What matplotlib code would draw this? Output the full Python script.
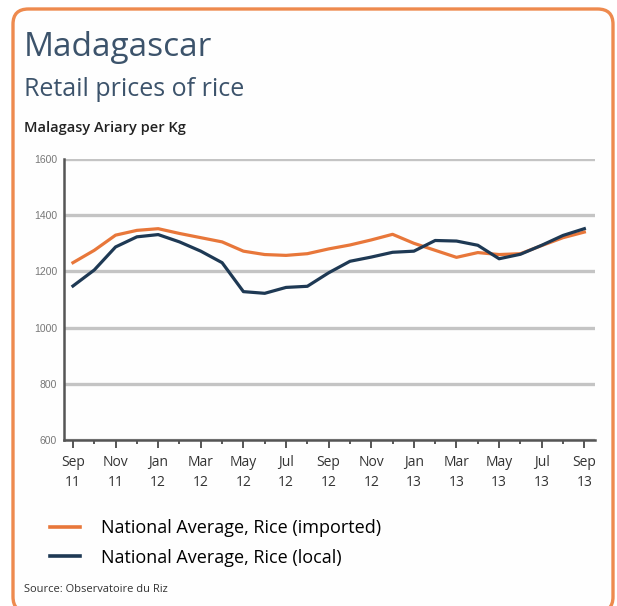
import matplotlib.pyplot as plt
from matplotlib.patches import FancyBboxPatch
from matplotlib.lines import Line2D

# Monthly retail prices, Sep 2011 - Sep 2013 (Ariary per kg)
months = ['Sep', 'Oct', 'Nov', 'Dec', 'Jan', 'Feb', 'Mar', 'Apr', 'May', 'Jun', 'Jul', 'Aug',
          'Sep', 'Oct', 'Nov', 'Dec', 'Jan', 'Feb', 'Mar', 'Apr', 'May', 'Jun', 'Jul', 'Aug', 'Sep']
years = ['11'] * 4 + ['12'] * 12 + ['13'] * 9
rice_imported = [1231, 1275, 1329, 1346, 1352, 1335, 1320, 1305, 1272, 1260, 1257, 1263,
                 1280, 1294, 1312, 1332, 1300, 1275, 1250, 1267, 1260, 1263, 1292, 1320, 1340]
rice_local = [1148, 1205, 1287, 1323, 1331, 1305, 1272, 1231, 1128, 1122, 1143, 1147,
              1195, 1236, 1251, 1268, 1272, 1310, 1308, 1293, 1245, 1261, 1293, 1328, 1352]

W, H = 617, 606
ORANGE = '#E8773A'
NAVY = '#1E3954'
TITLE_C = '#3C536B'
FONT = 'Open Sans'


def fx(x):
    return x / W


def fy(y):
    return 1 - y / H


fig = plt.figure(figsize=(W / 100, H / 100), dpi=100)
fig.patch.set_facecolor('white')

# rounded orange frame, kept behind everything else
frame = FancyBboxPatch((fx(13), fy(612)), fx(600), (612 - 9) / H,
                       boxstyle='round,pad=0,rounding_size=0.025',
                       transform=fig.transFigure, facecolor='#FEFEFE',
                       edgecolor='#EE8A4E', linewidth=2.4, zorder=-10)
fig.patches.append(frame)

# headings
fig.text(fx(24), fy(48), 'Madagascar', fontsize=24, color=TITLE_C, family=FONT, va='center')
fig.text(fx(24), fy(89), 'Retail prices of rice', fontsize=18, color=TITLE_C, family=FONT, va='center')
fig.text(fx(24), fy(128), 'Malagasy Ariary per Kg', fontsize=10.5, color='#222222', family=FONT,
         weight='semibold', va='center')
fig.text(fx(24), fy(590), 'Source: Observatoire du Riz', fontsize=8, color='#333333', family=FONT, va='center')

# chart area
ax = fig.add_axes([fx(64), fy(440), fx(595) - fx(64), (440 - 159) / H])
ax.set_facecolor('none')
x = list(range(len(months)))
ax.plot(x, rice_imported, color=ORANGE, linewidth=2.3, zorder=3)
ax.plot(x, rice_local, color=NAVY, linewidth=2.3, zorder=4)

ax.set_xlim(-0.42, 24.5)
ax.set_ylim(600, 1600)
ax.set_yticks(range(600, 1601, 200))
ax.yaxis.grid(True, color='#C4C4C4', linewidth=2.4)
ax.set_axisbelow(True)
for s in ['top', 'right']:
    ax.spines[s].set_visible(False)
for s in ['left', 'bottom']:
    ax.spines[s].set_color('#555555')
    ax.spines[s].set_linewidth(1.8)
    ax.spines[s].set_zorder(2.5)

ax.set_xticks(x[::2])
ax.set_xticklabels([m + '\n' + y for m, y in zip(months[::2], years[::2])],
                   fontsize=10, color='#333333', family=FONT, linespacing=1.5)
ax.set_xticks(x, minor=True)
ax.tick_params(axis='x', which='major', length=6, width=1.4, color='#555555', pad=4.5)
ax.tick_params(axis='x', which='minor', length=3, width=1.4, color='#555555')
ax.tick_params(axis='y', length=0, pad=5, labelsize=7.5, labelcolor='#777777')
for t in ax.get_yticklabels():
    t.set_family('Liberation Sans')
    t.set_verticalalignment('center_baseline')

# legend below the chart
handles = [Line2D([], [], color=ORANGE, linewidth=2.6),
           Line2D([], [], color=NAVY, linewidth=2.6)]
fig.legend(handles, ['National Average, Rice (imported)', 'National Average, Rice (local)'],
           loc='upper left', bbox_to_anchor=(fx(50), fy(519)), frameon=False,
           prop={'family': FONT, 'size': 13}, handlelength=1.65, handletextpad=1.2,
           labelspacing=0.65, borderpad=0, borderaxespad=0)

fig.savefig('out.png', dpi=100, facecolor='white')
